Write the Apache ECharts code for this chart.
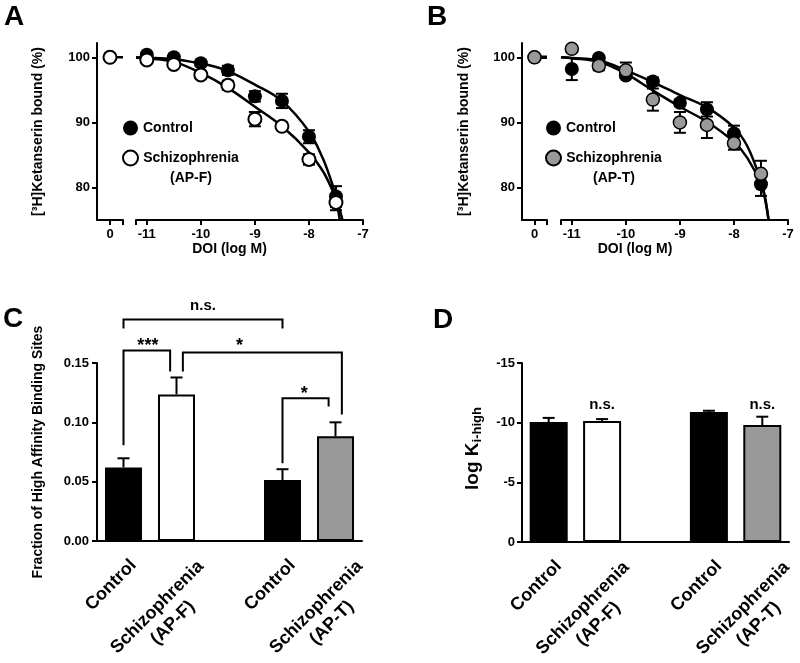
<!DOCTYPE html>
<html><head><meta charset="utf-8">
<script src="https://cdn.jsdelivr.net/npm/echarts@6/dist/echarts.min.js"></script>
<style>html,body{margin:0;padding:0;background:#fff}#c{width:800px;height:663px}</style>
</head><body><div id="c"></div>
<script>
const FONT = '"Liberation Sans", Arial, Helvetica, sans-serif';

// ---------- Panels A/B : competition curves ----------
const doseLog = [-11, -10.5, -10, -9.5, -9, -8.5, -8, -7.5];
const doseTicks = [-11, -10, -9, -8, -7];
const percentTicks = [80, 90, 100];
const zeroDose = 0;
const zeroDoseValue = 100;

const aControl    = [100.4, 100.0, 99.1, 98.0, 94.0, 93.3, 87.8, 78.6];
const aControlErr = [0.3, 0.3, 0.4, 0.7, 0.8, 1.1, 1.0, 1.6];
const aSchiz      = [99.6, 98.9, 97.3, 95.7, 90.5, 89.4, 84.3, 77.7];
const aSchizErr   = [0.5, 0.3, 0.6, 0.7, 1.1, 0.6, 0.8, 1.2];

const bControl    = [98.2, 99.9, 97.2, 96.3, 93.0, 92.0, 88.3, 80.5];
const bControlErr = [1.7, 0.3, 0.4, 0.6, 0.5, 1.1, 1.2, 1.8];
const bSchiz      = [101.3, 98.7, 98.0, 93.5, 90.0, 89.6, 86.8, 82.1];
const bSchizErr   = [0.4, 0.7, 1.2, 1.7, 1.6, 2.0, 1.0, 2.0];

// fitted curves
const aCtrlCurveX  = [-11.2, -11, -10.5, -10, -9.75, -9.5, -9, -8.5, -8, -7.75, -7.6, -7.5, -7.42, -7.38];
const aCtrlCurveY  = [100, 99.95, 99.7, 99.05, 98.6, 97.9, 95.8, 93.3, 88.6, 84.6, 81.3, 78.6, 76.3, 75];
const aSchizCurveX = [-11.2, -11, -10.5, -10, -9.5, -9, -8.5, -8, -7.75, -7.6, -7.5, -7.43];
const aSchizCurveY = [99.95, 99.85, 99.3, 97.6, 95.3, 92.4, 89.4, 85.4, 82.6, 80.2, 78.1, 75];
const bCtrlCurveX  = [-11.2, -11, -10.5, -10, -9.5, -9, -8.5, -8, -7.75, -7.5, -7.42, -7.36];
const bCtrlCurveY  = [100, 99.9, 99.55, 98.0, 96.2, 94.2, 92.3, 89.2, 86.3, 81.0, 78.3, 75];
const bSchizCurveX = [-11.2, -11, -10.5, -10, -9.5, -9, -8.5, -8, -7.75, -7.5, -7.42, -7.36];
const bSchizCurveY = [100, 99.85, 99.3, 97.5, 94.9, 92.4, 90.1, 87.0, 84.5, 80.5, 78.0, 75];

// ---------- Panels C/D : bars ----------
const barCategories = ['Control', 'Schizophrenia\n(AP-F)', '', 'Control', 'Schizophrenia\n(AP-T)'];
const cValues = [0.062, 0.1235, null, 0.0513, 0.0882];
const cErrTop = [0.0697, 0.1378, null, 0.0605, 0.100];
// brackets: [xStart(cat), xEnd(cat), yLine, yStartLeg, yEndLeg]
const cBrackets = [
  [0, 3, 0.1866, 0.179, 0.179],
  [0, 0.88, 0.1605, 0.0807, 0.1429],
  [1.12, 4.12, 0.1588, 0.1429, 0.1067],
  [3, 3.87, 0.1202, 0.0655, 0.1134]
];
const cBracketLabels = ['n.s.', '***', '*', '*'];
const cLabelX = [1.5, 0.46, 2.19, 3.41];
const cLabelY = [0.1985, 0.1647, 0.1647, 0.1235];

const dValues = [-10.05, -10.15, null, -10.9, -9.8];
const dErrTop = [-10.4, -10.3, null, -11.0, -10.5];
const dLabels = ['n.s.', 'n.s.'];
const dLabelCat = [1, 4];
const dLabelY = [-11.5, -11.5];

// ---------- helpers ----------
const AX = {color: '#000', width: 2};
const tickLbl = {fontSize: 13, fontWeight: 'bold', color: '#000', fontFamily: FONT};
const zip = (xs, ys) => xs.map((x, i) => [x, ys[i]]);
const errRows = (xs, ys, es) => xs.map((x, i) => [x, ys[i] - es[i], ys[i] + es[i]]);

function errItem(params, api) {
  const x = api.value(0);
  const a = api.coord([x, api.value(1)]), b = api.coord([x, api.value(2)]);
  const st = {stroke: '#000', lineWidth: 2};
  const h = 6;
  return {type: 'group', children: [
    {type: 'line', shape: {x1: a[0], y1: a[1], x2: b[0], y2: b[1]}, style: st},
    {type: 'line', shape: {x1: a[0] - h, y1: a[1], x2: a[0] + h, y2: a[1]}, style: st},
    {type: 'line', shape: {x1: b[0] - h, y1: b[1], x2: b[0] + h, y2: b[1]}, style: st}
  ]};
}
function barErrItem(params, api) {
  const x = api.value(0);
  const a = api.coord([x, api.value(1)]), b = api.coord([x, api.value(2)]);
  const st = {stroke: '#000', lineWidth: 2};
  const h = 6;
  return {type: 'group', children: [
    {type: 'line', shape: {x1: a[0], y1: a[1], x2: b[0], y2: b[1]}, style: st},
    {type: 'line', shape: {x1: b[0] - h, y1: b[1], x2: b[0] + h, y2: b[1]}, style: st}
  ]};
}
function catPx(api, c, y) {
  const p0 = api.coord([0, y]), p1 = api.coord([1, y]);
  return [p0[0] + (p1[0] - p0[0]) * c, p0[1]];
}
function bracketItem(params, api) {
  const b = cBrackets[params.dataIndex];
  const s0 = catPx(api, b[0], b[3]), s1 = catPx(api, b[0], b[2]);
  const e1 = catPx(api, b[1], b[2]), e0 = catPx(api, b[1], b[4]);
  const t = catPx(api, cLabelX[params.dataIndex], cLabelY[params.dataIndex]);
  const lbl = cBracketLabels[params.dataIndex];
  return {type: 'group', children: [
    {type: 'polyline', shape: {points: [s0, s1, e1, e0]}, style: {stroke: '#000', lineWidth: 2, fill: null}},
    {type: 'text', x: t[0], y: t[1], style: {text: lbl, align: 'center', verticalAlign: 'middle',
      font: 'bold ' + (lbl === 'n.s.' ? 15 : 18) + 'px ' + FONT, fill: '#000'}}
  ]};
}
function nsItem(params, api) {
  const p = api.coord([api.value(0), api.value(1)]);
  return {type: 'text', x: p[0], y: p[1], style: {text: dLabels[params.dataIndex], align: 'center',
    verticalAlign: 'middle', font: 'bold 15px ' + FONT, fill: '#000'}};
}
// rotated category labels, anchored on each category of the axis
function catLabelItem(params, api) {
  const i = api.value(0);
  const txt = barCategories[i];
  const p = api.coord([i, api.value(1)]);
  const two = txt.indexOf('\n') >= 0;
  const off = two ? [-11.5, 74] : [-12.5, 44];
  return {type: 'text', x: p[0] + off[0], y: p[1] + off[1], rotation: Math.PI / 4,
    style: {text: txt, align: 'center', verticalAlign: 'middle', font: 'bold 18px ' + FONT,
      lineHeight: 22, fill: '#000'}};
}

function breakX(grid) {
  return {gridIndex: grid, type: 'value', min: -1, max: 1,
    axisLine: {onZero: false, lineStyle: AX},
    axisTick: {customValues: [zeroDose, 1], length: 5, lineStyle: AX},
    axisLabel: Object.assign({customValues: [zeroDose], margin: 8}, tickLbl),
    splitLine: {show: false}};
}
function mainX(grid, padRight) {
  return {gridIndex: grid, type: 'value', min: -11.2, max: -7,
    axisLine: {onZero: false, lineStyle: AX},
    axisTick: {customValues: [-11.2].concat(doseTicks), length: 5, lineStyle: AX},
    axisLabel: Object.assign({customValues: doseTicks, margin: 8}, tickLbl),
    splitLine: {show: false},
    name: 'DOI (log M)', nameLocation: 'middle', nameGap: 22,
    nameTextStyle: {fontSize: 14, fontWeight: 'bold', color: '#000', fontFamily: FONT, padding: [0, padRight, 0, 0]}};
}
function percentY(grid, gap) {
  return {gridIndex: grid, type: 'value', min: 75, max: 102.2,
    axisLine: {show: true, onZero: false, lineStyle: AX},
    axisTick: {show: true, customValues: percentTicks, length: 5, lineStyle: AX},
    axisLabel: Object.assign({customValues: percentTicks, margin: 7}, tickLbl),
    splitLine: {show: false},
    name: '[³H]Ketanserin bound (%)', nameLocation: 'middle', nameGap: gap,
    nameTextStyle: {fontSize: 14, fontWeight: 'bold', color: '#000', fontFamily: FONT}};
}
function hiddenY(grid) {
  return {gridIndex: grid, type: 'value', min: 75, max: 102.2, show: false};
}
function catX(grid) {
  return {gridIndex: grid, type: 'category', boundaryGap: true, data: barCategories,
    axisLine: {onZero: false, lineStyle: AX}, axisTick: {show: false},
    axisLabel: {show: false}, splitLine: {show: false}};
}
function curveLine(xi, yi, xs, ys) {
  return {type: 'line', xAxisIndex: xi, yAxisIndex: yi, data: zip(xs, ys), smooth: 0.35,
    symbol: 'none', lineStyle: {color: '#000', width: 2.5}, silent: true, z: 2};
}
function errSeries(xi, yi, rows) {
  return {type: 'custom', xAxisIndex: xi, yAxisIndex: yi, data: rows, renderItem: errItem,
    encode: {x: 0, y: [1, 2]}, silent: true, z: 3};
}
function dots(name, xi, yi, data, fill, border) {
  const s = {type: 'scatter', xAxisIndex: xi, yAxisIndex: yi, data: data, symbol: 'circle',
    symbolSize: border ? 13 : 14, itemStyle: {color: fill, borderColor: '#000', borderWidth: border, opacity: 1}, z: 4};
  if (name) s.name = name;
  return s;
}
function legendFor(left, schizName) {
  return {left: left, top: 118, orient: 'vertical', padding: 0, itemWidth: 15, itemHeight: 15, itemGap: 10,
    selectedMode: false,
    data: [{name: 'Control'}, {name: schizName, textStyle: {padding: [0, 0, -20, 0]}}],
    formatter: n => n.indexOf('Schizophrenia') === 0 ? '{a|Schizophrenia}\n{a|' + n.slice(14) + '}' : n,
    textStyle: {fontSize: 14, fontWeight: 'bold', color: '#000', lineHeight: 20, fontFamily: FONT,
      rich: {a: {fontSize: 14, fontWeight: 'bold', width: 96, align: 'center', lineHeight: 20, color: '#000', fontFamily: FONT}}}};
}

const barFill = ['#000', '#fff', null, '#000', '#999'];
function barData(vals) {
  return vals.map((v, i) => v === null ? '-' : {value: v, itemStyle: {color: barFill[i], borderColor: '#000', borderWidth: 2}});
}
function barErrRows(vals, tops) {
  const r = [];
  vals.forEach((v, i) => { if (v !== null) r.push([i, v, tops[i]]); });
  return r;
}
const catLabelRows = barCategories.map((c, i) => [i, 0]);

const titleStyle = {fontSize: 28, fontWeight: 'bold', color: '#000', fontFamily: FONT};
const G = {outerBoundsMode: 'none', containLabel: false};

const option = {
  animation: false,
  textStyle: {fontFamily: FONT},
  title: [
    {text: 'A', left: 4, top: 3, padding: 0, textStyle: titleStyle},
    {text: 'B', left: 427, top: 3, padding: 0, textStyle: titleStyle},
    {text: 'C', left: 3, top: 305, padding: 0, textStyle: titleStyle},
    {text: 'D', left: 433, top: 306, padding: 0, textStyle: titleStyle}
  ],
  legend: [legendFor(122, 'Schizophrenia (AP-F)'), legendFor(545, 'Schizophrenia (AP-T)')],
  grid: [
    Object.assign({left: 97, top: 43, width: 26, height: 177}, G),
    Object.assign({left: 136, top: 43, width: 227, height: 177}, G),
    Object.assign({left: 522, top: 43, width: 25, height: 177}, G),
    Object.assign({left: 561, top: 43, width: 227, height: 177}, G),
    Object.assign({left: 97, top: 363, width: 265, height: 178}, G),
    Object.assign({left: 522, top: 363, width: 267, height: 179}, G)
  ],
  xAxis: [breakX(0), mainX(1, 40), breakX(2), mainX(3, 79), catX(4), catX(5)],
  yAxis: [
    percentY(0, 52), hiddenY(1), percentY(2, 51), hiddenY(3),
    {gridIndex: 4, type: 'value', min: 0, max: 0.15, interval: 0.05,
      axisLine: {show: true, onZero: false, lineStyle: AX},
      axisTick: {show: true, length: 5, lineStyle: AX},
      axisLabel: Object.assign({margin: 8, formatter: v => v.toFixed(2)}, tickLbl),
      splitLine: {show: false},
      name: 'Fraction of High Affinity Binding Sites', nameLocation: 'middle', nameGap: 52,
      nameTextStyle: {fontSize: 14, fontWeight: 'bold', color: '#000', fontFamily: FONT}},
    {gridIndex: 5, type: 'value', min: -15, max: 0, interval: 5, inverse: true,
      axisLine: {show: true, onZero: false, lineStyle: AX},
      axisTick: {show: true, length: 5, lineStyle: AX},
      axisLabel: Object.assign({margin: 7}, tickLbl),
      splitLine: {show: false},
      name: 'log K{sub|i-high}', nameLocation: 'middle', nameGap: 38,
      nameTextStyle: {fontSize: 19, fontWeight: 'bold', color: '#000', fontFamily: FONT, padding: [0, 0, 0, 8],
        rich: {sub: {fontSize: 13, fontWeight: 'bold', color: '#000', fontFamily: FONT, padding: [9, 0, 0, 0]}}}}
  ],
  series: [
    // Panel A
    curveLine(1, 1, aCtrlCurveX, aCtrlCurveY),
    curveLine(1, 1, aSchizCurveX, aSchizCurveY),
    {type: 'line', xAxisIndex: 0, yAxisIndex: 0, data: [[zeroDose, zeroDoseValue], [1, zeroDoseValue]],
      symbol: 'none', lineStyle: {color: '#000', width: 2.5}, silent: true},
    errSeries(1, 1, errRows(doseLog, aControl, aControlErr)),
    errSeries(1, 1, errRows(doseLog, aSchiz, aSchizErr)),
    dots('Control', 1, 1, zip(doseLog, aControl), '#000', 0),
    dots('Schizophrenia (AP-F)', 1, 1, zip(doseLog, aSchiz), '#fff', 2),
    dots(null, 0, 0, [[zeroDose, zeroDoseValue]], '#000', 0),
    dots(null, 0, 0, [[zeroDose, zeroDoseValue]], '#fff', 2),
    // Panel B
    curveLine(3, 3, bCtrlCurveX, bCtrlCurveY),
    curveLine(3, 3, bSchizCurveX, bSchizCurveY),
    {type: 'line', xAxisIndex: 2, yAxisIndex: 2, data: [[zeroDose, zeroDoseValue], [1, zeroDoseValue]],
      symbol: 'none', lineStyle: {color: '#000', width: 3.5}, silent: true},
    errSeries(3, 3, errRows(doseLog, bControl, bControlErr)),
    errSeries(3, 3, errRows(doseLog, bSchiz, bSchizErr)),
    dots('Control', 3, 3, zip(doseLog, bControl), '#000', 0),
    dots('Schizophrenia (AP-T)', 3, 3, zip(doseLog, bSchiz), '#999', 1.5),
    dots(null, 2, 2, [[zeroDose, zeroDoseValue]], '#000', 0),
    dots(null, 2, 2, [[zeroDose, zeroDoseValue]], '#999', 1.5),
    // Panel C
    {type: 'bar', xAxisIndex: 4, yAxisIndex: 4, data: barData(cValues), barWidth: 37, silent: true, z: 2},
    {type: 'custom', xAxisIndex: 4, yAxisIndex: 4, data: barErrRows(cValues, cErrTop), renderItem: barErrItem,
      encode: {x: 0, y: [1, 2]}, silent: true, z: 3},
    {type: 'custom', xAxisIndex: 4, yAxisIndex: 4, data: cBrackets.map(b => [0, b[2]]), renderItem: bracketItem,
      encode: {x: 0, y: 1}, silent: true, z: 3, clip: false},
    {type: 'custom', xAxisIndex: 4, yAxisIndex: 4, data: catLabelRows, renderItem: catLabelItem,
      encode: {x: 0, y: 1}, silent: true, z: 3, clip: false},
    // Panel D
    {type: 'bar', xAxisIndex: 5, yAxisIndex: 5, data: barData(dValues), barWidth: 38, silent: true, z: 2},
    {type: 'custom', xAxisIndex: 5, yAxisIndex: 5, data: barErrRows(dValues, dErrTop), renderItem: barErrItem,
      encode: {x: 0, y: [1, 2]}, silent: true, z: 3},
    {type: 'custom', xAxisIndex: 5, yAxisIndex: 5, data: zip(dLabelCat, dLabelY), renderItem: nsItem,
      encode: {x: 0, y: 1}, silent: true, z: 3, clip: false},
    {type: 'custom', xAxisIndex: 5, yAxisIndex: 5, data: catLabelRows, renderItem: catLabelItem,
      encode: {x: 0, y: 1}, silent: true, z: 3, clip: false}
  ]
};

const chart = echarts.init(document.getElementById('c'), null, {renderer: 'canvas'});
chart.setOption(option);
</script>
</body></html>
